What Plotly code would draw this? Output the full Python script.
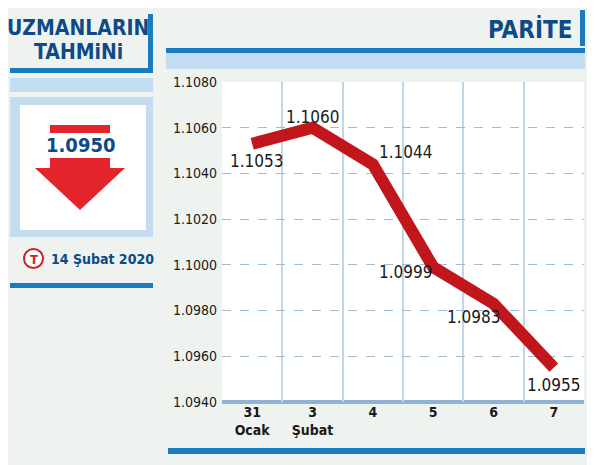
import plotly.graph_objects as go

categories = ["31<br>Ocak", "3<br>Şubat", "4", "5", "6", "7"]
values = [1.1053, 1.1060, 1.1044, 1.0999, 1.0983, 1.0955]
labels = ["1.1053", "1.1060", "1.1044", "1.0999", "1.0983", "1.0955"]
y_ticks = [1.094, 1.096, 1.098, 1.100, 1.102, 1.104, 1.106, 1.108]
forecast = "1.0950"

x = list(range(len(categories)))
FONT = "DejaVu Sans Condensed"
DB = "#0d4a86"
BL = "#1a7bbf"
LB = "#c3dcf0"

# page has an 8px body margin; work in reference-pixel coords shifted by OX
OX = 8
W, H = 595 - OX, 465 - OX
L, R, T, B = 222 - OX, 584 - OX, 82 - OX, 402 - OX

fig = go.Figure()
fig.add_trace(go.Scatter(x=x, y=values, mode="lines",
                         line=dict(color="#c0161c", width=12), hoverinfo="skip"))

offs = [(5, -17), (0, 11), (33, 12), (-27, -5), (-20, -13), (0, -17)]
for xi, v, t, (dx, dy) in zip(x, values, labels, offs):
    fig.add_annotation(x=xi, y=v, text=t, showarrow=False, xshift=dx, yshift=dy,
                       font=dict(family=FONT, size=17, color="#1a1a1a"))

shapes = []
def px(xp): return (xp - OX - L) / (R - L)
def py(yp): return (B - (yp - OX)) / (B - T)
def prect(x0, y0, x1, y1, c):
    shapes.append(dict(type="rect", xref="paper", yref="paper", x0=px(x0), x1=px(x1), y0=py(y1), y1=py(y0),
                       fillcolor=c, line=dict(width=0), layer="below"))

prect(148, 14, 153, 73, BL)
prect(10, 68, 153, 73, BL)
prect(10, 78, 153, 92, LB)
prect(10, 97, 153, 237, LB)
prect(20, 105, 146, 230, "white")
prect(50, 125, 110, 133, "#e4242b")
prect(50, 158, 110, 170, "#e4242b")
shapes.append(dict(type="path", xref="paper", yref="paper",
                   path=f"M {px(35)} {py(168)} L {px(125)} {py(168)} L {px(80)} {py(210)} Z",
                   fillcolor="#e4242b", line=dict(width=0)))
shapes.append(dict(type="circle", xref="paper", yref="paper", x0=px(24), x1=px(43), y0=py(268), y1=py(249),
                   line=dict(color="#d11f26", width=2), fillcolor="white"))
prect(10, 283, 153, 288, BL)
prect(580, 10, 585, 46, BL)
prect(166, 48, 585, 53, BL)
prect(166, 53, 585, 69, LB)
prect(168, 448, 585, 454, BL)
prect(222, 400, 584, 404, "#8fb3d3")

def ann(xp, yp, text, size, color, xanchor="center"):
    fig.add_annotation(xref="paper", yref="paper", x=px(xp), y=py(yp), text=text, showarrow=False,
                       xanchor=xanchor, yanchor="middle", font=dict(family=FONT, size=size, color=color))

ann(78, 28, "<b>UZMANLARIN</b>", 21, DB)
ann(78, 52, "<b>TAHMiNi</b>", 21, DB)
ann(80, 145, f"<b>{forecast}</b>", 20, DB)
ann(33.5, 259, "<b>T</b>", 13, "#d11f26")
ann(49, 259, "<b>14 Şubat 2020</b>", 14, DB, "left")
ann(574, 29, "<b>PARİTE</b>", 24, DB, "right")

fig.update_layout(
    width=W, height=H, margin=dict(l=L, r=W - R, t=T, b=H - B),
    paper_bgcolor="#eef3ef", plot_bgcolor="white", showlegend=False, shapes=shapes,
    xaxis=dict(range=[-0.5, 5.5], tickvals=x, ticktext=[f"<b>{c}</b>" for c in categories],
               showgrid=False, zeroline=False, fixedrange=True,
               tickfont=dict(family=FONT, size=14, color="#1a1a1a"),
               minor=dict(tick0=-0.5, dtick=1, showgrid=True, gridcolor="#c3d6e6", gridwidth=2)),
    yaxis=dict(range=[1.094, 1.108], tickvals=y_ticks, ticktext=[f"{v:.4f}" for v in y_ticks],
               showgrid=True, gridcolor="#9fbcd6", griddash="dash", gridwidth=1, zeroline=False,
               tickfont=dict(family=FONT, size=14, color="#1a1a1a"), ticks="", ticklabelstandoff=4),
)
fig.write_html("out.html")
